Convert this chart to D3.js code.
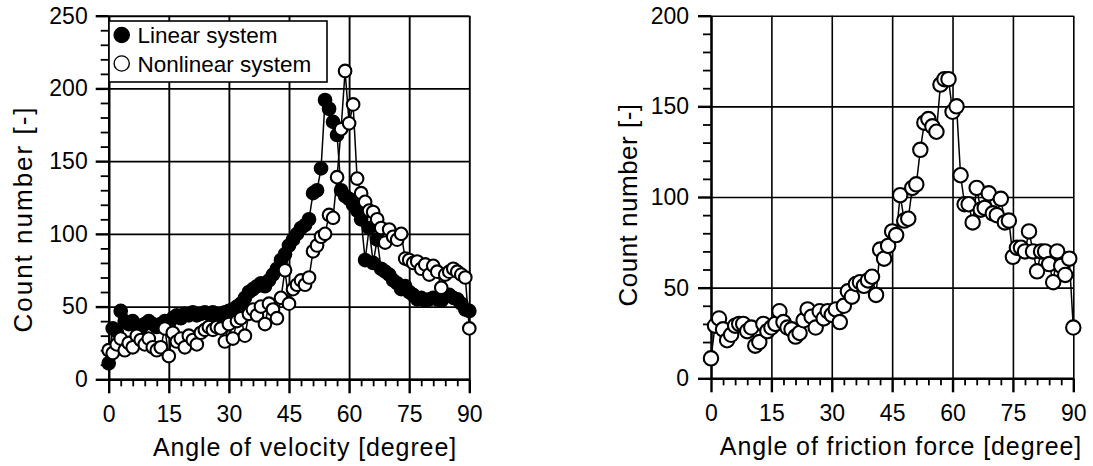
<!DOCTYPE html>
<html>
<head>
<meta charset="utf-8">
<script src="https://cdn.jsdelivr.net/npm/d3@7"></script>
<style>
  body { margin: 0; background: #fff; }
  svg { display: block; font-family: "Liberation Sans", Arial, sans-serif; }
</style>
</head>
<body>
<svg id="chart" width="1093" height="466"></svg>
<script>
// angle bins [degree]
const angles = [
  0, 1, 2, 3, 4, 5, 6, 7, 8, 9, 10, 11, 12, 13, 14, 15, 16, 17, 18, 19,
  20, 21, 22, 23, 24, 25, 26, 27, 28, 29, 30, 31, 32, 33, 34, 35, 36, 37, 38, 39,
  40, 41, 42, 43, 44, 45, 46, 47, 48, 49, 50, 51, 52, 53, 54, 55, 56, 57, 58, 59,
  60, 61, 62, 63, 64, 65, 66, 67, 68, 69, 70, 71, 72, 73, 74, 75, 76, 77, 78, 79,
  80, 81, 82, 83, 84, 85, 86, 87, 88, 89, 90
];

// angle of velocity, linear system (filled)
const linearCounts = [
  11, 35, 33, 47, 40, 38, 40, 37, 35, 38,
  40, 38, 36, 38, 40, 38, 42, 44, 42, 45,
  44, 46, 44, 45, 46, 45, 46, 44, 45, 46,
  47, 48, 50, 52, 56, 60, 62, 64, 66, 64,
  68, 72, 76, 82, 86, 92, 96, 100, 104, 106,
  110, 128, 130, 145, 192, 186, 177, 168, 130, 126,
  124, 120, 116, 110, 82, 104, 80, 96, 76, 74,
  72, 68, 66, 62, 64, 60, 58, 55, 56, 54,
  55, 56, 55, 54, 57, 58, 56, 55, 52, 48,
  47
];

// angle of velocity, nonlinear system (open)
const nonlinearCounts = [
  20, 18, 24, 28, 20, 25, 22, 30, 27, 24,
  28, 22, 20, 22, 35, 16, 32, 26, 28, 22,
  30, 27, 24, 32, 34, 36, 34, 36, 35, 26,
  38, 28, 40, 42, 30, 45, 48, 44, 50, 38,
  52, 48, 42, 56, 75, 52, 62, 65, 68, 65,
  70, 88, 92, 98, 100, 113, 111, 139, 172, 212,
  176, 189, 138, 128, 122, 116, 115, 110, 104, 94,
  103, 98, 96, 100, 83, 82, 80, 81, 76, 79,
  72, 78, 74, 63, 72, 74, 76, 74, 72, 70,
  35
];

// angle of friction force
const frictionCounts = [
  11, 29, 33, 27, 21, 24, 29, 30, 30, 26,
  28, 18, 20, 30, 26, 28, 30, 37, 31, 28,
  27, 23, 25, 32, 38, 34, 28, 37, 33, 37,
  35, 38, 31, 40, 48, 45, 52, 53, 51, 54,
  56, 46, 71, 66, 73, 81, 79, 101, 87, 88,
  105, 107, 126, 141, 143, 139, 136, 162, 165, 165,
  147, 150, 112, 96, 96, 86, 105, 93, 94, 102,
  91, 90, 99, 86, 87, 67, 72, 72, 70, 81,
  70, 59, 70, 70, 63, 53, 70, 62, 57, 66,
  28
];

const xTicks = [0, 15, 30, 45, 60, 75, 90];
const yTicksVelocity = [0, 50, 100, 150, 200, 250];
const yTicksFriction = [0, 50, 100, 150, 200];
const legendLabels = ["Linear system", "Nonlinear system"];

const svg = d3.select("#chart");

function drawPanel(p) {
  const x = d3.scaleLinear().domain([0, 90]).range([p.left, p.right]);
  const y = d3.scaleLinear().domain([0, p.yMax]).range([p.bottom, p.top]);
  const w = p.right - p.left, h = p.bottom - p.top;
  const g = svg.append("g");

  // grid
  g.append("g")
    .attr("transform", `translate(${p.left},0)`)
    .call(d3.axisLeft(y).tickValues(p.yTicks).tickSize(-w).tickFormat(""))
    .call(s => s.select(".domain").remove())
    .selectAll("line").attr("stroke", "#000").attr("stroke-width", p.gridWidth);
  g.append("g")
    .attr("transform", `translate(0,${p.bottom})`)
    .call(d3.axisBottom(x).tickValues(xTicks).tickSize(-h).tickFormat(""))
    .call(s => s.select(".domain").remove())
    .selectAll("line").attr("stroke", "#000").attr("stroke-width", p.gridWidth);

  // minor ticks
  const minorY = d3.range(10, p.yMax, 10).filter(v => v % 50 !== 0);
  const minorX = d3.range(3, 90, 3).filter(v => v % 15 !== 0);
  g.append("g")
    .attr("transform", `translate(${p.left},0)`)
    .call(d3.axisLeft(y).tickValues(minorY).tickSize(8).tickSizeOuter(0).tickFormat(""))
    .call(s => s.select(".domain").remove())
    .selectAll("line").attr("stroke", "#000").attr("stroke-width", 1.8);
  g.append("g")
    .attr("transform", `translate(0,${p.bottom})`)
    .call(d3.axisBottom(x).tickValues(minorX).tickSize(7).tickSizeOuter(0).tickFormat(""))
    .call(s => s.select(".domain").remove())
    .selectAll("line").attr("stroke", "#000").attr("stroke-width", 1.8);

  // major ticks + labels
  const ay = g.append("g")
    .attr("transform", `translate(${p.left},0)`)
    .call(d3.axisLeft(y).tickValues(p.yTicks).tickSize(13).tickSizeOuter(0).tickPadding(p.yPad));
  const ax = g.append("g")
    .attr("transform", `translate(0,${p.bottom})`)
    .call(d3.axisBottom(x).tickValues(xTicks).tickSize(14).tickSizeOuter(0).tickPadding(12));
  [ay, ax].forEach(a => {
    a.selectAll("line, .domain").attr("stroke", "#000").attr("stroke-width", 2.4);
    a.selectAll("text").attr("font-size", "23px").attr("fill", "#000")
      .attr("font-family", "Liberation Sans, Arial, sans-serif");
  });

  // series
  const line = d3.line().x((d, i) => x(angles[i])).y(d => y(d));
  p.series.forEach(s => {
    g.append("path")
      .datum(s.values)
      .attr("d", line)
      .attr("fill", "none")
      .attr("stroke", "#000")
      .attr("stroke-width", 1.5);
    g.append("g").selectAll("circle")
      .data(s.values)
      .join("circle")
      .attr("cx", (d, i) => x(angles[i]))
      .attr("cy", d => y(d))
      .attr("r", p.r)
      .attr("fill", s.fill)
      .attr("stroke", "#000")
      .attr("stroke-width", 2.1);
  });

  // titles
  g.append("text")
    .attr("x", p.xTitleX)
    .attr("y", p.xTitleY)
    .attr("text-anchor", "middle")
    .attr("font-size", "25px")
    .attr("letter-spacing", "0.9px")
    .text(p.xTitle);
  g.append("text")
    .attr("transform", `translate(${p.yTitleX},${p.yTitleY}) rotate(-90)`)
    .attr("text-anchor", "middle")
    .attr("font-size", "26px")
    .attr("letter-spacing", p.yTitleSpacing)
    .text("Count number [-]");

  return { x, y, g };
}

const left = drawPanel({
  left: 108.7, right: 469.3, top: 15.7, bottom: 379.3,
  yMax: 250, yTicks: yTicksVelocity, yPad: 8, r: 6.3, gridWidth: 1.9,
  series: [
    { values: linearCounts, fill: "#000" },
    { values: nonlinearCounts, fill: "#fff" }
  ],
  xTitle: "Angle of velocity [degree]", xTitleX: 305, xTitleY: 456,
  yTitleX: 32, yTitleY: 219, yTitleSpacing: "2px"
});

drawPanel({
  left: 711, right: 1073.3, top: 15.7, bottom: 378.3,
  yMax: 200, yTicks: yTicksFriction, yPad: 9, r: 7.2, gridWidth: 1.6,
  series: [
    { values: frictionCounts, fill: "#fff" }
  ],
  xTitle: "Angle of friction force [degree]", xTitleX: 901, xTitleY: 455,
  yTitleX: 637, yTitleY: 205, yTitleSpacing: "0.5px"
});

// legend (left panel)
const lg = left.g.append("g");
lg.append("rect")
  .attr("x", 109).attr("y", 21).attr("width", 218).attr("height", 61)
  .attr("fill", "#fff").attr("stroke", "#000").attr("stroke-width", 1.6);
const legendFills = ["#000", "#fff"];
legendLabels.forEach((label, i) => {
  lg.append("circle")
    .attr("cx", 121.7).attr("cy", 35 + i * 28.5).attr("r", 7.6)
    .attr("fill", legendFills[i]).attr("stroke", "#000").attr("stroke-width", 1.4);
  lg.append("text")
    .attr("x", 137.5).attr("y", 43.3 + i * 28.5)
    .attr("font-size", "22.5px")
    .text(label);
});
</script>
</body>
</html>
